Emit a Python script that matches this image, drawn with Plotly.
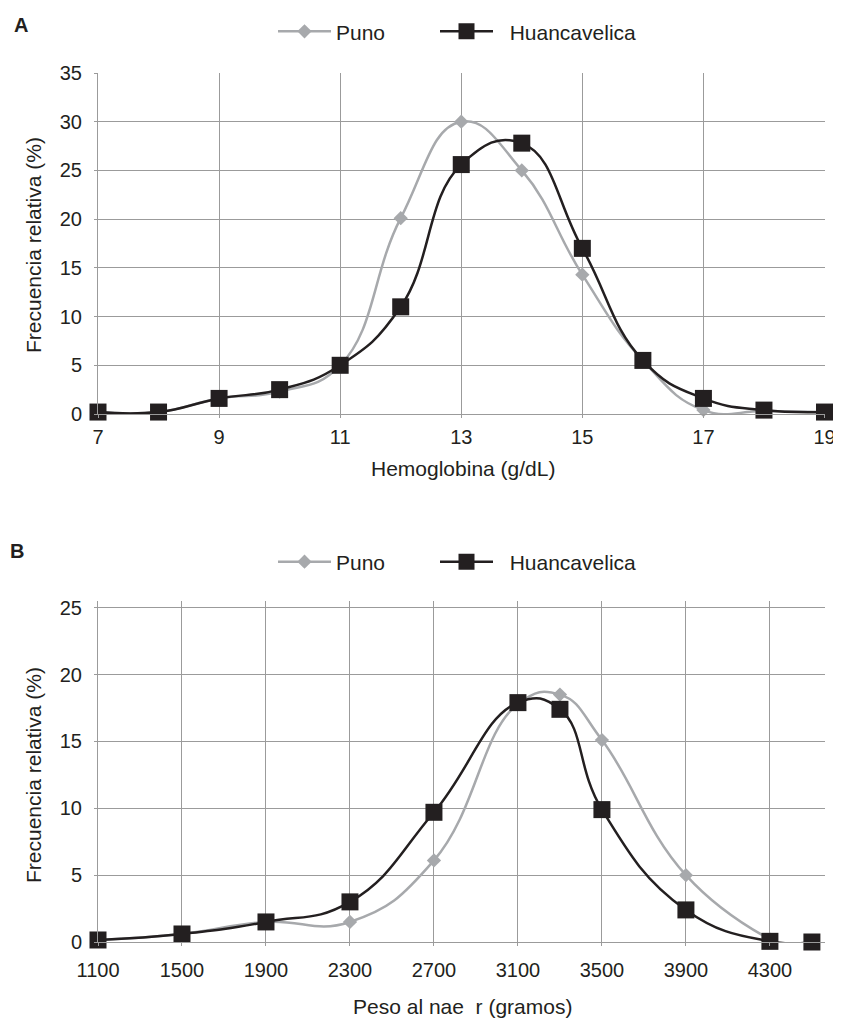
import plotly.graph_objects as go

# ---- Data: panel A (hemoglobin) ----
hb_x = [7, 8, 9, 10, 11, 12, 13, 14, 15, 16, 17, 18, 19]
hb_puno = [0.2, 0.2, 1.6, 2.3, 5.0, 20.1, 30.0, 25.0, 14.3, 5.5, 0.4, 0.3, 0.2]
hb_huanca = [0.2, 0.2, 1.6, 2.5, 5.0, 11.0, 25.6, 27.8, 17.0, 5.5, 1.6, 0.4, 0.2]

# ---- Data: panel B (birth weight) ----
bw_x_puno = [1100, 1500, 1900, 2300, 2700, 3100, 3300, 3500, 3900, 4300]
bw_puno = [0.15, 0.6, 1.5, 1.5, 6.1, 17.8, 18.5, 15.1, 5.0, 0.2]
bw_x_huanca = [1100, 1500, 1900, 2300, 2700, 3100, 3300, 3500, 3900, 4300, 4500]
bw_huanca = [0.15, 0.6, 1.5, 3.0, 9.7, 17.9, 17.4, 9.9, 2.4, 0.05, 0.0]

series_names = ["Puno", "\u00a0\u00a0Huancavelica"]
title_x_a = "Hemoglobina (g/dL)"
title_x_b = "Peso al nae\u00a0 r (gramos)"
title_y = "Frecuencia relativa (%)"

# the page body has an 8px margin; size the figure so it fits the 841x1019 window
OFF = 8
W, H = 841 - OFF, 1019 - OFF
GRAY = "#a7a9ac"
BLACK = "#231f20"
GRID = "#9b9b9b"
FONT = "Liberation Sans, Arial, sans-serif"
SMOOTH = 1.3


def px_x(p):
    return (p - OFF) / W


def px_y(p):
    return 1 - (p - OFF) / H


fig = go.Figure()
line_w = 2.5
for xs, ys, xa, ya, leg in [
    (hb_x, hb_puno, "x", "y", "legend"),
    (bw_x_puno, bw_puno, "x2", "y2", "legend2"),
]:
    fig.add_trace(go.Scatter(
        x=xs, y=ys, xaxis=xa, yaxis=ya, name=series_names[0], legend=leg,
        mode="lines+markers", cliponaxis=False,
        line=dict(color=GRAY, width=line_w, shape="spline", smoothing=SMOOTH),
        marker=dict(symbol="diamond", size=11, color=GRAY),
    ))
for xs, ys, xa, ya, leg in [
    (hb_x, hb_huanca, "x", "y", "legend3"),
    (bw_x_huanca, bw_huanca, "x2", "y2", "legend4"),
]:
    fig.add_trace(go.Scatter(
        x=xs, y=ys, xaxis=xa, yaxis=ya, name=series_names[1], legend=leg,
        mode="lines+markers", cliponaxis=False,
        line=dict(color=BLACK, width=line_w, shape="spline", smoothing=SMOOTH),
        marker=dict(symbol="square", size=17, color=BLACK),
    ))

xdom = [px_x(98), px_x(824.5)]
axis_common = dict(
    showgrid=True, gridcolor=GRID, gridwidth=1,
    showline=True, linecolor=GRID, linewidth=1,
    ticks="outside", ticklen=3, tickcolor=GRID,
    tickfont=dict(family=FONT, size=20, color=BLACK),
    zeroline=False, automargin=False, fixedrange=True,
)

legend_common = dict(orientation="h", xanchor="left", yanchor="middle",
                     font=dict(family=FONT, size=21, color=BLACK), itemwidth=53,
                     bgcolor="rgba(0,0,0,0)")

fig.update_layout(
    width=W, height=H,
    margin=dict(l=0, r=0, t=0, b=0),
    paper_bgcolor="white", plot_bgcolor="white",
    font=dict(family=FONT, size=20, color=BLACK),
    xaxis=dict(domain=xdom, range=[7, 19], tick0=7, dtick=2, anchor="y",
               ticklabelstandoff=2, **axis_common),
    yaxis=dict(domain=[px_y(414), px_y(73)], range=[0, 35], dtick=5, anchor="x",
               ticklabelstandoff=8, **axis_common),
    xaxis2=dict(domain=xdom, range=[1100, 4560], tick0=1100, dtick=400, anchor="y2",
                ticklabelstandoff=7, **axis_common),
    yaxis2=dict(domain=[px_y(942), px_y(601)], range=[0, 25.5], tick0=0, dtick=5, anchor="x2",
                ticklabelstandoff=8, **axis_common),
    legend=dict(x=px_x(273), y=px_y(31.7), **legend_common),
    legend3=dict(x=px_x(435), y=px_y(31.7), **legend_common),
    legend2=dict(x=px_x(273), y=px_y(562), **legend_common),
    legend4=dict(x=px_x(435), y=px_y(562), **legend_common),
    showlegend=True,
)

annotations = [
    dict(text="<b>A</b>", x=px_x(21), y=px_y(25), font=dict(size=20)),
    dict(text="<b>B</b>", x=px_x(17), y=px_y(551), font=dict(size=20)),
    dict(text=title_x_a, x=px_x(463), y=px_y(468), font=dict(size=21)),
    dict(text=title_x_b, x=px_x(463), y=px_y(1006), font=dict(size=21)),
    dict(text=title_y, x=px_x(33), y=px_y(245), textangle=-90, font=dict(size=21)),
    dict(text=title_y, x=px_x(33), y=px_y(775), textangle=-90, font=dict(size=21)),
]
for a in annotations:
    a.update(xref="paper", yref="paper", xanchor="center", yanchor="middle", showarrow=False)
    a["font"].update(family=FONT, color=BLACK)
fig.update_layout(annotations=annotations)

fig.write_html("out.html")
